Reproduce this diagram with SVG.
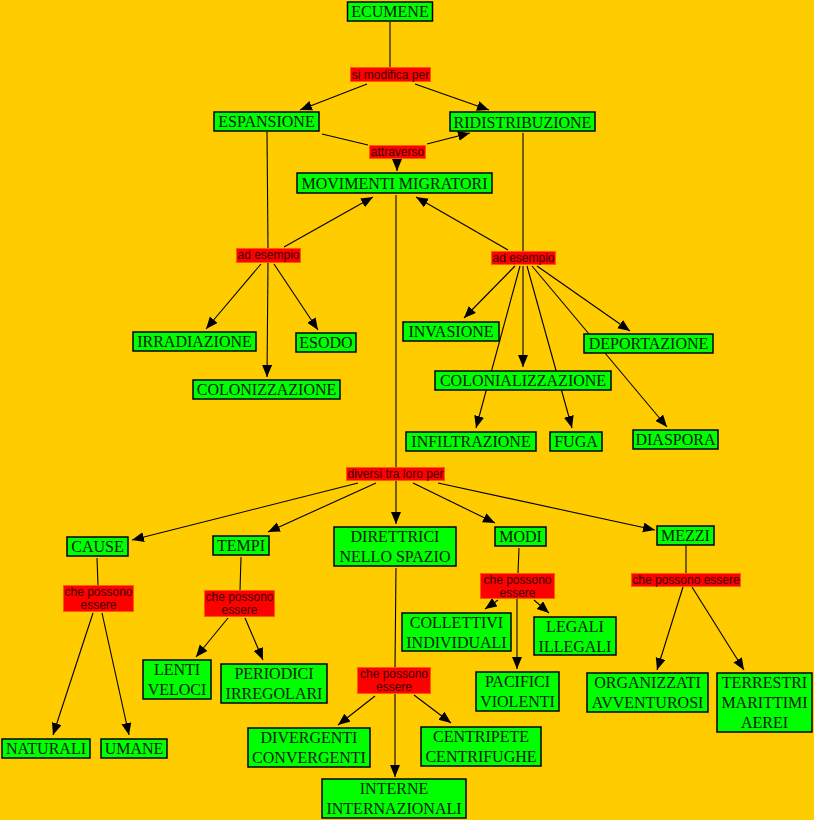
<svg xmlns="http://www.w3.org/2000/svg" width="814" height="820" viewBox="0 0 814 820">
<defs>
<marker id="ah" markerUnits="userSpaceOnUse" markerWidth="13" markerHeight="11" refX="12" refY="5" orient="auto">
<path d="M0,0 L12,5 L0,10 z" fill="#000"/>
</marker>
<style>
.n rect{fill:#00ff00;stroke:#000;stroke-width:1.5}
.n text{font-family:"Liberation Serif","Times New Roman",serif;font-size:16px;fill:#0a200a;text-anchor:middle}
.l rect{fill:#ff0000;stroke:#ff5a00;stroke-width:1}
.l text{font-family:"Liberation Sans",Arial,sans-serif;font-size:12px;fill:#3a0000;text-anchor:middle}
#connectors line{stroke:#000;stroke-width:1.1;fill:none}
#connectors .a{marker-end:url(#ah)}
</style>
</defs>
<rect width="814" height="820" fill="#ffcc00"/>
<g id="connectors">
<line x1="390" y1="22" x2="390" y2="67"/>
<line class="a" x1="367" y1="84" x2="300" y2="110"/>
<line class="a" x1="415" y1="84" x2="489" y2="110"/>
<line x1="322" y1="134" x2="368" y2="145"/>
<line class="a" x1="427" y1="144" x2="470" y2="133"/>
<line class="a" x1="397" y1="159" x2="397" y2="171"/>
<line x1="267" y1="132" x2="268" y2="248"/>
<line class="a" x1="284" y1="247" x2="373" y2="197"/>
<line class="a" x1="261" y1="264" x2="206" y2="329"/>
<line class="a" x1="268" y1="263" x2="267" y2="377"/>
<line class="a" x1="274" y1="264" x2="318" y2="330"/>
<line x1="523" y1="133" x2="523" y2="251"/>
<line class="a" x1="508" y1="250" x2="416" y2="197"/>
<line class="a" x1="515" y1="266" x2="464" y2="318"/>
<line class="a" x1="520" y1="266" x2="476" y2="428"/>
<line class="a" x1="523" y1="266" x2="523" y2="367"/>
<line class="a" x1="527" y1="266" x2="572" y2="428"/>
<line class="a" x1="537" y1="266" x2="630" y2="331"/>
<line class="a" x1="532" y1="266" x2="667" y2="427"/>
<line x1="396" y1="195" x2="396" y2="467"/>
<line class="a" x1="396" y1="481" x2="396" y2="524"/>
<line class="a" x1="413" y1="483" x2="495" y2="523"/>
<line class="a" x1="438" y1="483" x2="655" y2="530"/>
<line class="a" x1="358" y1="483" x2="132" y2="540"/>
<line class="a" x1="376" y1="483" x2="268" y2="532"/>
<line x1="97" y1="558" x2="98" y2="585"/>
<line x1="241" y1="557" x2="240" y2="590"/>
<line class="a" x1="228" y1="618" x2="196" y2="657"/>
<line class="a" x1="245" y1="618" x2="263" y2="660"/>
<line class="a" x1="93" y1="613" x2="53" y2="735"/>
<line class="a" x1="102" y1="613" x2="129" y2="735"/>
<line x1="396" y1="568" x2="395" y2="667"/>
<line class="a" x1="375" y1="696" x2="338" y2="725"/>
<line class="a" x1="395" y1="694" x2="395" y2="777"/>
<line class="a" x1="414" y1="695" x2="451" y2="723"/>
<line x1="519" y1="548" x2="518" y2="573"/>
<line class="a" x1="498" y1="600" x2="485" y2="609"/>
<line class="a" x1="534" y1="600" x2="549" y2="613"/>
<line class="a" x1="517" y1="599" x2="517" y2="669"/>
<line x1="686" y1="546" x2="686" y2="573"/>
<line class="a" x1="683" y1="587" x2="657" y2="670"/>
<line class="a" x1="692" y1="587" x2="744" y2="670"/>
</g>
<g id="lbl-si-modifica" class="l"><rect x="350.5" y="67.5" width="80" height="14"/><text x="390.5" y="78.5">si modifica per</text></g>
<g id="lbl-attraverso" class="l"><rect x="369.5" y="145.5" width="56" height="13"/><text x="397.5" y="156">attraverso</text></g>
<g id="lbl-ad-esempio-1" class="l"><rect x="236.5" y="248.5" width="64" height="14"/><text x="268.5" y="259">ad esempio</text></g>
<g id="lbl-ad-esempio-2" class="l"><rect x="491.5" y="251.5" width="64" height="13"/><text x="523.5" y="262">ad esempio</text></g>
<g id="lbl-diversi" class="l"><rect x="346.5" y="467.5" width="98" height="13"/><text x="395.5" y="478">diversi tra loro per</text></g>
<g id="lbl-cpe-cause" class="l"><rect x="63.5" y="585.5" width="70" height="26"/><text x="98.5" y="595.5">che possono</text><text x="98.5" y="609">essere</text></g>
<g id="lbl-cpe-tempi" class="l"><rect x="204.5" y="590.5" width="70" height="26"/><text x="239.5" y="600.5">che possono</text><text x="239.5" y="614">essere</text></g>
<g id="lbl-cpe-modi" class="l"><rect x="480.5" y="573.5" width="74" height="25"/><text x="517.5" y="583.5">che possono</text><text x="517.5" y="597">essere</text></g>
<g id="lbl-cpe-mezzi" class="l"><rect x="631.5" y="573.5" width="109" height="13"/><text x="686" y="584">che possono essere</text></g>
<g id="lbl-cpe-direttrici" class="l"><rect x="357.5" y="667.5" width="73" height="26"/><text x="394" y="677.5">che possono</text><text x="394" y="691">essere</text></g>
<g id="n-ecumene" class="n"><rect x="347.5" y="2" width="85" height="19"/><text x="390" y="16.5">ECUMENE</text></g>
<g id="n-espansione" class="n"><rect x="214" y="112" width="105" height="19"/><text x="266.5" y="127">ESPANSIONE</text></g>
<g id="n-ridistribuzione" class="n"><rect x="450" y="112" width="145" height="19"/><text x="522.5" y="127.5">RIDISTRIBUZIONE</text></g>
<g id="n-movimenti" class="n"><rect x="297" y="173" width="195" height="20"/><text x="394.5" y="189">MOVIMENTI MIGRATORI</text></g>
<g id="n-irradiazione" class="n"><rect x="133" y="332" width="123" height="19"/><text x="194.5" y="347">IRRADIAZIONE</text></g>
<g id="n-esodo" class="n"><rect x="296" y="333" width="60" height="19"/><text x="326" y="348">ESODO</text></g>
<g id="n-colonizzazione" class="n"><rect x="193" y="380" width="147" height="19"/><text x="266.5" y="395">COLONIZZAZIONE</text></g>
<g id="n-invasione" class="n"><rect x="403" y="322" width="96" height="19"/><text x="451" y="337">INVASIONE</text></g>
<g id="n-deportazione" class="n"><rect x="584" y="334" width="129" height="19"/><text x="648.5" y="349">DEPORTAZIONE</text></g>
<g id="n-colonializzazione" class="n"><rect x="435" y="371" width="176" height="19"/><text x="523" y="386">COLONIALIZZAZIONE</text></g>
<g id="n-infiltrazione" class="n"><rect x="406" y="432" width="130" height="19"/><text x="471" y="447">INFILTRAZIONE</text></g>
<g id="n-fuga" class="n"><rect x="550" y="432" width="52" height="19"/><text x="576" y="447">FUGA</text></g>
<g id="n-diaspora" class="n"><rect x="633" y="430" width="85" height="19"/><text x="675.5" y="445">DIASPORA</text></g>
<g id="n-cause" class="n"><rect x="67" y="537" width="61" height="19"/><text x="97.5" y="552">CAUSE</text></g>
<g id="n-tempi" class="n"><rect x="213" y="536" width="56" height="19"/><text x="241" y="551">TEMPI</text></g>
<g id="n-direttrici" class="n"><rect x="334" y="527" width="122" height="39"/><text x="395" y="542">DIRETTRICI</text><text x="395" y="562">NELLO SPAZIO</text></g>
<g id="n-modi" class="n"><rect x="495" y="527" width="51" height="19"/><text x="520.5" y="542">MODI</text></g>
<g id="n-mezzi" class="n"><rect x="657" y="526" width="57" height="19"/><text x="685.5" y="541">MEZZI</text></g>
<g id="n-lenti" class="n"><rect x="143" y="660" width="68" height="39"/><text x="177" y="675">LENTI</text><text x="177" y="695">VELOCI</text></g>
<g id="n-periodici" class="n"><rect x="221" y="664" width="106" height="39"/><text x="274" y="679">PERIODICI</text><text x="274" y="699">IRREGOLARI</text></g>
<g id="n-naturali" class="n"><rect x="2" y="739" width="88" height="19"/><text x="46" y="754">NATURALI</text></g>
<g id="n-umane" class="n"><rect x="101" y="739" width="66" height="19"/><text x="134" y="754">UMANE</text></g>
<g id="n-collettivi" class="n"><rect x="402" y="613" width="109" height="38"/><text x="456.5" y="628">COLLETTIVI</text><text x="456.5" y="648">INDIVIDUALI</text></g>
<g id="n-legali" class="n"><rect x="534" y="617" width="82" height="38"/><text x="575" y="632">LEGALI</text><text x="575" y="652">ILLEGALI</text></g>
<g id="n-pacifici" class="n"><rect x="476" y="672" width="83" height="39"/><text x="517.5" y="687">PACIFICI</text><text x="517.5" y="707">VIOLENTI</text></g>
<g id="n-organizzati" class="n"><rect x="587" y="673" width="121" height="39"/><text x="647.5" y="688">ORGANIZZATI</text><text x="647.5" y="708">AVVENTUROSI</text></g>
<g id="n-terrestri" class="n"><rect x="717" y="673" width="95" height="59"/><text x="764.5" y="688">TERRESTRI</text><text x="764.5" y="708">MARITTIMI</text><text x="764.5" y="728">AEREI</text></g>
<g id="n-divergenti" class="n"><rect x="248" y="728" width="122" height="39"/><text x="309" y="743">DIVERGENTI</text><text x="309" y="763">CONVERGENTI</text></g>
<g id="n-centripete" class="n"><rect x="421" y="727" width="120" height="39"/><text x="481" y="742">CENTRIPETE</text><text x="481" y="762">CENTRIFUGHE</text></g>
<g id="n-interne" class="n"><rect x="322" y="779" width="144" height="39"/><text x="394" y="794">INTERNE</text><text x="394" y="814">INTERNAZIONALI</text></g>
</svg>
